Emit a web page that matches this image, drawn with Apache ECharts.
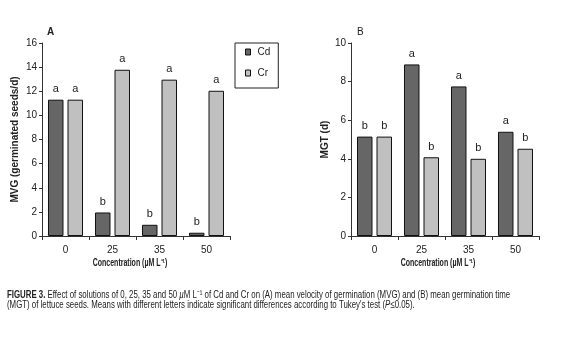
<!DOCTYPE html>
<html><head><meta charset="utf-8">
<script src="https://cdn.jsdelivr.net/npm/echarts@6/dist/echarts.min.js"></script>
<style>html,body{margin:0;padding:0;background:#fff}#c{width:579px;height:338px}</style>
</head><body><div id="c"></div>
<script>
var categories = ['0', '25', '35', '50'];
var mvgCd = [11.3, 1.95, 0.93, 0.27];
var mvgCr = [11.3, 13.78, 12.96, 12.04];
var mvgCdLetters = ['a', 'b', 'b', 'b'];
var mvgCrLetters = ['a', 'a', 'a', 'a'];
var mgtCd = [5.15, 8.89, 7.75, 5.4];
var mgtCr = [5.15, 4.08, 4.0, 4.52];
var mgtCdLetters = ['b', 'a', 'a', 'a'];
var mgtCrLetters = ['b', 'b', 'b', 'b'];
var xTitle = 'Concentration (µM L⁻¹)';
var captionLine1 = '{b|FIGURE 3.} Effect of solutions of 0, 25, 35 and 50 {i|µ}M L⁻¹ of Cd and Cr on (A) mean velocity of germination (MVG) and (B) mean germination time';
var captionLine2 = '(MGT) of lettuce seeds. Means with different letters indicate significant differences according to Tukey\'s test ({i|P}≤0.05).';

var FONT = '"Liberation Sans", Arial, sans-serif';
var chart = echarts.init(document.getElementById('c'));

function xAxis(idx) {
  return {
    type: 'category', gridIndex: idx, data: categories,
    axisLine: {lineStyle: {color: '#333', width: 1}},
    axisTick: {show: true, length: 4, lineStyle: {color: '#333'}},
    axisLabel: {color: '#222', fontFamily: FONT, fontSize: 10, margin: 9}
  };
}
function yAxis(idx, max, name, gap) {
  return {
    type: 'value', gridIndex: idx, min: 0, max: max, interval: 2,
    axisLine: {show: true, lineStyle: {color: '#333', width: 1}},
    axisTick: {show: true, length: 3, lineStyle: {color: '#333'}},
    splitLine: {show: false},
    axisLabel: {color: '#222', fontFamily: FONT, fontSize: 10, margin: 5},
    name: name, nameLocation: 'middle', nameGap: gap,
    nameTextStyle: {color: '#222', fontFamily: FONT, fontSize: 10, fontWeight: 'bold'}
  };
}
function barSeries(name, xi, data, letters, color) {
  return {
    name: name, type: 'bar', xAxisIndex: xi, yAxisIndex: xi, data: data,
    barWidth: 15.5, barGap: '26%',
    itemStyle: {color: color, borderColor: '#111', borderWidth: 1},
    label: {show: true, position: 'top', distance: 5, color: '#222', fontFamily: FONT, fontSize: 11,
      formatter: function (p) { return letters[p.dataIndex]; }}
  };
}
var captionStyle = {
  fontFamily: FONT, fontSize: 11, fill: '#222', verticalAlign: 'top',
  rich: {
    b: {fontFamily: FONT, fontSize: 11, fontWeight: 'bold', fill: '#222'},
    i: {fontFamily: FONT, fontSize: 11, fontStyle: 'italic', fill: '#222'}
  }
};

chart.setOption({
  animation: false,
  backgroundColor: '#fff',
  title: [
    {text: 'A', left: 42, top: 22, textStyle: {fontFamily: FONT, fontSize: 10, fontWeight: 'bold', color: '#222'}},
    {text: 'B', left: 352, top: 22, textStyle: {fontFamily: FONT, fontSize: 10, fontWeight: 'normal', color: '#222'}}
  ],
  graphic: [
    {type: 'text', x: 130, y: 258, scaleX: 0.7, style: {text: xTitle, fontFamily: FONT, fontSize: 10, fontWeight: 'bold', fill: '#222', align: 'center', verticalAlign: 'top'}},
    {type: 'text', x: 438, y: 258, scaleX: 0.7, style: {text: xTitle, fontFamily: FONT, fontSize: 10, fontWeight: 'bold', fill: '#222', align: 'center', verticalAlign: 'top'}},
    {type: 'text', x: 7, y: 289, scaleX: 0.714, style: Object.assign({text: captionLine1}, captionStyle)},
    {type: 'text', x: 7, y: 299, scaleX: 0.714, style: Object.assign({text: captionLine2}, captionStyle)}
  ],
  legend: {
    show: true, orient: 'vertical', left: 235, top: 43,
    padding: [4, 8, 10, 10], itemGap: 11, itemWidth: 5, itemHeight: 6,
    borderColor: '#222', borderWidth: 1, icon: 'rect',
    itemStyle: {borderColor: '#111', borderWidth: 1},
    textStyle: {fontFamily: FONT, fontSize: 10, color: '#222', padding: [0, 0, 0, 2]},
    data: ['Cd', 'Cr']
  },
  grid: [
    {left: 42, right: 349, top: 43, bottom: 102},
    {left: 351, right: 40, top: 43, bottom: 102}
  ],
  xAxis: [xAxis(0), xAxis(1)],
  yAxis: [yAxis(0, 16, 'MVG (germinated seeds/d)', 22), yAxis(1, 10, 'MGT (d)', 21)],
  series: [
    barSeries('Cd', 0, mvgCd, mvgCdLetters, '#666666'),
    barSeries('Cr', 0, mvgCr, mvgCrLetters, '#c0c0c0'),
    barSeries('Cd', 1, mgtCd, mgtCdLetters, '#666666'),
    barSeries('Cr', 1, mgtCr, mgtCrLetters, '#c0c0c0')
  ]
});
</script></body></html>
